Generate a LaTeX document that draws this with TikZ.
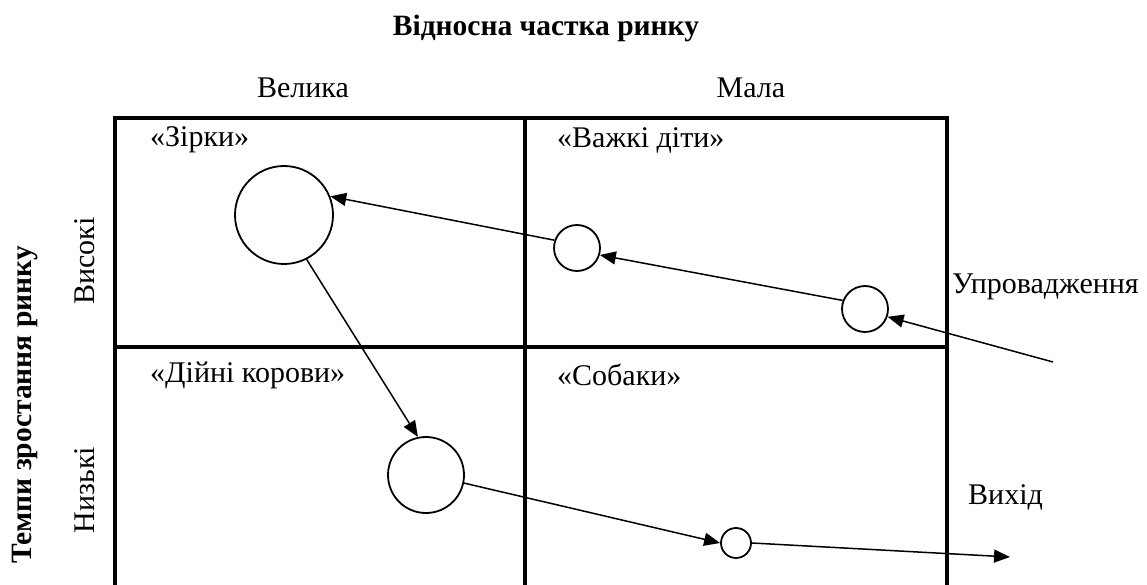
\documentclass[tikz,border=0pt]{standalone}
\usepackage{fontspec}
\setmainfont{Liberation Serif}
\usetikzlibrary{arrows.meta}
\begin{document}
\begin{tikzpicture}[
    x=1pt, y=-1pt,
    % GLOBAL CFG
    font=\fontsize{30}{36}\selectfont,
    >={Triangle[length=16pt, width=13pt]},
    % Styles
    grid/.style={% For the matrix lines
        line width=4pt,
        },
    unit/.style={% For the business units
        circle,
        draw,
        line width=1.8pt,
        inner sep=0pt,
        },
    quad/.style={% For the quadrant names
        anchor=west,
        inner sep=0pt,
        },
    axis/.style={% For the axis titles
        font=\fontsize{29.5}{36}\selectfont\bfseries,
        },
    flow/.style={% Arrows between units
        ->,
        line width=1.5pt,
        },
    ]

    \useasboundingbox (0,0) rectangle (1147,585);

    % Draw the matrix
    \draw [grid] (115,590) -- (115,118) -- (947,118) -- (947,590);
    \draw [grid] (115,347) -- (947,347);
    \draw [grid] (525,118) -- (525,590);

    % Axis titles
    \node [axis] (share) at (546,28) {Відносна частка ринку};
    \node [axis, rotate=90] (growth) at (25,405) {Темпи зростання ринку};
    \node (big) at (303,88) {Велика};
    \node (small) at (751,88) {Мала};
    \node [rotate=90] (high) at (85,261) {Високі};
    \node [rotate=90] (low) at (85,490) {Низькі};

    % Quadrants
    \node [quad] (q1) at (150,140) {«Зірки»};
    \node [quad] (q2) at (557,140) {«Важкі діти»};
    \node [quad] (q3) at (150,375) {«Дійні корови»};
    \node [quad] (q4) at (557,375) {«Собаки»};

    % Units named after the quadrants
    \node [unit, minimum size=98pt] (star) at (284,215) {};
    \node [unit, minimum size=46pt] (problem) at (577,248) {};
    \node [unit, minimum size=46pt] (intro) at (865,309) {};
    \node [unit, minimum size=76pt] (cow) at (426,475) {};
    \node [unit, minimum size=30pt] (dog) at (736,543) {};

    % Stages
    \node [quad] (entry) at (952,287) {Упровадження};
    \node [quad] (exit) at (968,497) {Вихід};
    \coordinate (in) at (1053,362);
    \coordinate (out) at (1010,557);

% Connect the life cycle
    \draw [flow] (in) -- (intro.-19);
    \draw [flow] (intro.159) -- (problem.-17);
    \draw [flow] (problem.161) -- (star.22);
    \draw [flow] (star.-63) -- (cow.102);
    \draw [flow] (cow.-12) -- (dog.west);
    \draw [flow] (dog.east) -- (out);
\end{tikzpicture}
\end{document}
